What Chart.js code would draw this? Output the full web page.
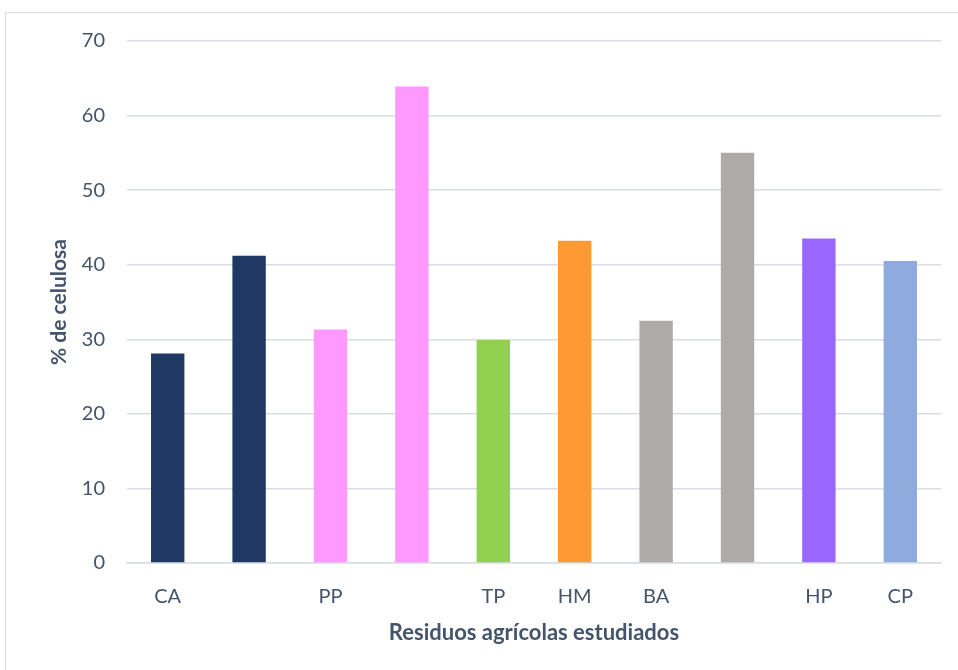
<!DOCTYPE html>
<html>
<head>
<meta charset="utf-8">
<script src="https://cdn.jsdelivr.net/npm/chart.js@4/dist/chart.umd.min.js"></script>
<style>
html,body{margin:0;padding:0;background:#fff;overflow:hidden;}
#wrap{position:absolute;left:0;top:0;width:958px;height:670px;}
#frame{position:absolute;left:5px;top:12px;width:1000px;height:1000px;border:1px solid #D9DDE3;pointer-events:none;}
</style>
</head>
<body>
<div id="wrap"><canvas id="c" width="958" height="670"></canvas></div>
<div id="frame"></div>
<script>
const categories = ['CA', '', 'PP', '', 'TP', 'HM', 'BA', '', 'HP', 'CP'];
const celulosa = [28.1, 41.2, 31.3, 63.9, 29.9, 43.2, 32.5, 55.0, 43.5, 40.5];
const barColors = ['#203864', '#203864', '#FF99FF', '#FF99FF', '#92D050', '#FF9933', '#AEAAAA', '#AEAAAA', '#9966FF', '#8FAADC'];
const yTitle = '% de celulosa';
const xTitle = 'Residuos agrícolas estudiados';

const textColor = '#44546A';
const gridColor = '#D9DDE3';
const fontFamily = 'Lato, "Open Sans", sans-serif';

new Chart(document.getElementById('c'), {
  type: 'bar',
  data: {
    labels: categories,
    datasets: [{
      data: celulosa,
      backgroundColor: barColors,
      borderWidth: 0,
      barPercentage: 0.41,
      categoryPercentage: 1.0
    }]
  },
  options: {
    responsive: false,
    animation: false,
    devicePixelRatio: 1,
    layout: { padding: { top: 41, right: 17, bottom: 20, left: 0 } },
    plugins: { legend: { display: false }, tooltip: { enabled: false } },
    scales: {
      x: {
        grid: { display: false, drawTicks: false },
        border: { display: true, color: gridColor, width: 1.5 },
        ticks: { color: textColor, font: { family: fontFamily, size: 20 }, padding: 22, maxRotation: 0, autoSkip: false },
        title: { display: true, text: xTitle, color: textColor, font: { family: fontFamily, size: 22, weight: 'bold' }, padding: { top: 10 } },
        afterFit: (s) => { s.height = 87; }
      },
      y: {
        min: 0, max: 70,
        ticks: { stepSize: 10, color: textColor, font: { family: fontFamily, size: 20 }, padding: 22 },
        grid: { color: gridColor, lineWidth: 1.5, drawTicks: false },
        border: { display: false },
        title: { display: true, text: yTitle, color: textColor, font: { family: fontFamily, size: 21, weight: 'bold' }, padding: { top: 47 } },
        afterFit: (s) => { s.width = 127; }
      }
    }
  }
});
</script>
</body>
</html>
